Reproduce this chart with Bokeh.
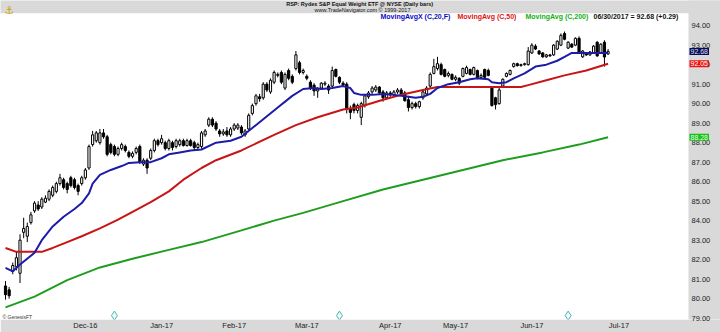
from bokeh.plotting import figure
from bokeh.models import (Range1d, LinearAxis, FixedTicker, Label, ColumnDataSource,
                          NumeralTickFormatter)
from bokeh.embed import file_html
from bokeh.resources import INLINE

FONT = "Liberation Sans"

# ---------------- data ----------------
opens = [80.65, 80.45, 81.4, 81.65, 81.3, 83.4, 83.2, 83.9, 84.5, 84.8,
         84.7, 84.95, 85.1, 85.3, 85.5, 85.9, 86.1, 85.9, 86.2, 86.1,
         85.8, 85.9, 86.2, 86.7, 87.9, 88.1, 88.0, 88.5, 88.3, 87.9,
         87.8, 87.4, 87.7, 87.8, 87.5, 87.3, 87.5, 87.8, 86.9, 87.1,
         87.2, 87.6, 88.1, 88.0, 88.0, 87.7, 88.0, 87.8, 87.9, 88.1,
         87.85, 88.1, 88.0, 87.75, 87.8, 88.4, 88.9, 89.2, 89.0, 88.6,
         88.45, 88.6, 88.4, 88.7, 88.75, 88.8, 88.4, 88.7, 89.5, 90.0,
         90.35, 90.3, 91.0, 90.6, 91.1, 91.45, 91.6, 90.8, 91.7, 91.4,
         91.8, 92.1, 91.6, 91.4, 91.1, 90.95, 90.65, 90.8, 91.0, 90.9,
         90.9, 91.75, 91.35, 91.05, 91.0, 89.75, 89.95, 89.65, 89.3, 89.9,
         90.35, 90.6, 90.7, 90.85, 90.6, 90.3, 90.55, 90.45, 90.6, 90.7,
         90.55, 90.2, 89.8, 90.0, 89.85, 90.3, 90.5, 90.9, 91.55, 91.8,
         92.0, 91.75, 91.45, 91.5, 91.25, 91.3, 91.4, 91.55, 91.75, 91.5,
         91.7, 91.35, 91.75, 91.7, 90.8, 90.3, 90.0, 90.9, 91.4, 91.5,
         91.9, 92.05, 91.95, 92.0, 92.0, 92.6, 92.95, 92.7, 92.6, 92.4,
         92.5, 92.5, 92.8, 93.0, 93.6, 92.85, 93.05, 93.0, 93.35, 92.4,
         92.6, 92.5, 92.6, 93.15, 92.6, 93.15, 92.55]
highs = [80.9, 80.6, 81.85, 82.4, 83.3, 84.15, 83.9, 84.45, 85.0, 85.0,
         85.2, 85.3, 85.6, 85.8, 86.0, 86.4, 86.2, 86.0, 86.3, 86.2,
         85.9, 86.3, 86.7, 87.9, 88.6, 88.6, 88.7, 88.7, 88.4, 88.0,
         87.9, 87.8, 88.0, 87.9, 87.6, 87.55, 87.8, 87.9, 87.2, 87.2,
         87.7, 88.2, 88.2, 88.4, 88.1, 88.2, 88.1, 88.2, 88.2, 88.2,
         88.2, 88.2, 88.1, 88.0, 88.6, 88.7, 89.3, 89.3, 89.1, 88.7,
         88.7, 88.8, 88.8, 89.0, 89.0, 88.9, 88.7, 89.5, 90.0, 90.5,
         90.5, 91.1, 91.1, 91.3, 91.7, 91.6, 91.7, 91.6, 91.8, 91.5,
         92.7, 92.2, 91.8, 91.5, 91.2, 91.05, 90.85, 91.1, 91.15, 91.0,
         91.9, 91.8, 91.4, 91.15, 91.1, 89.9, 90.05, 90.0, 90.1, 90.45,
         90.65, 90.9, 90.95, 90.9, 90.7, 90.65, 90.65, 90.7, 90.8, 90.8,
         90.65, 90.4, 90.1, 90.1, 90.15, 90.7, 90.9, 91.6, 92.3, 92.4,
         92.1, 91.8, 91.65, 91.55, 91.45, 91.35, 91.85, 91.95, 91.8, 91.9,
         91.75, 91.55, 91.8, 91.8, 90.85, 90.35, 90.85, 91.3, 91.6, 91.75,
         92.1, 92.1, 92.05, 92.1, 92.9, 93.1, 93.05, 92.75, 92.65, 92.55,
         92.55, 93.05, 93.25, 93.6, 93.7, 93.2, 93.1, 93.4, 93.45, 92.75,
         92.65, 92.7, 93.0, 93.2, 93.1, 93.25, 92.8]
lows = [79.95, 80.0, 81.25, 81.45, 80.8, 83.1, 82.9, 83.8, 84.4, 84.5,
        84.6, 84.9, 85.0, 85.2, 85.4, 85.8, 85.6, 85.4, 85.7, 85.6,
        85.3, 85.8, 86.1, 86.6, 87.8, 88.0, 87.9, 88.2, 87.3, 87.4,
        87.3, 87.3, 87.6, 87.5, 87.2, 87.2, 87.4, 86.9, 86.8, 86.4,
        87.1, 87.5, 87.8, 87.9, 87.6, 87.6, 87.6, 87.7, 87.8, 87.8,
        87.8, 87.8, 87.6, 87.6, 87.7, 88.3, 88.8, 88.8, 88.6, 88.3,
        88.35, 88.3, 88.3, 88.6, 88.65, 88.4, 88.3, 88.6, 89.4, 89.9,
        90.1, 90.2, 90.6, 90.5, 91.0, 91.35, 91.0, 90.7, 91.2, 91.0,
        91.7, 91.5, 91.5, 91.2, 90.7, 90.4, 90.3, 90.7, 90.9, 90.5,
        90.85, 91.35, 91.0, 90.85, 89.5, 89.2, 89.5, 89.5, 88.9, 89.8,
        90.25, 90.5, 90.6, 90.45, 90.1, 90.2, 90.35, 90.35, 90.5, 90.4,
        90.1, 89.6, 89.7, 89.75, 89.75, 90.2, 90.4, 90.8, 91.5, 91.7,
        91.45, 91.35, 91.35, 91.2, 91.15, 90.95, 91.35, 91.5, 91.45, 91.45,
        91.25, 91.25, 91.3, 91.4, 89.85, 89.7, 89.95, 90.85, 91.35, 91.45,
        91.85, 91.9, 91.9, 91.95, 91.95, 92.55, 92.75, 92.5, 92.35, 92.35,
        92.4, 92.45, 92.75, 92.95, 93.25, 92.8, 92.85, 92.95, 92.55, 92.35,
        92.45, 92.45, 92.55, 92.4, 92.55, 91.9, 92.5]
closes = [80.2, 80.15, 81.7, 82.1, 83.0, 83.6, 83.7, 84.3, 84.9, 84.6,
          85.1, 85.15, 85.5, 85.7, 85.9, 86.2, 85.7, 85.6, 85.8, 85.7,
          85.5, 86.2, 86.6, 87.8, 88.4, 88.5, 88.5, 88.3, 87.4, 87.5,
          87.4, 87.7, 87.9, 87.6, 87.3, 87.45, 87.7, 87.0, 87.1, 86.7,
          87.6, 88.1, 87.9, 88.2, 87.7, 88.1, 87.75, 88.1, 88.1, 87.85,
          88.1, 87.85, 87.75, 87.9, 88.5, 88.6, 89.2, 88.9, 88.7, 88.45,
          88.55, 88.4, 88.7, 88.9, 88.9, 88.5, 88.6, 89.4, 89.9, 90.4,
          90.25, 91.0, 90.7, 91.2, 91.6, 91.5, 91.1, 91.5, 91.3, 91.1,
          92.5, 91.6, 91.7, 91.3, 90.8, 90.65, 90.75, 91.05, 91.05, 90.7,
          91.7, 91.4, 91.1, 90.95, 89.7, 89.55, 89.65, 89.9, 90.0, 90.4,
          90.55, 90.8, 90.85, 90.55, 90.3, 90.55, 90.45, 90.6, 90.7, 90.5,
          90.15, 89.8, 90.0, 89.85, 90.1, 90.6, 90.8, 91.5, 91.9, 92.05,
          91.5, 91.4, 91.55, 91.25, 91.35, 91.05, 91.8, 91.85, 91.5, 91.85,
          91.3, 91.45, 91.35, 91.45, 89.9, 89.95, 90.7, 91.25, 91.55, 91.7,
          92.05, 91.95, 92.0, 92.05, 92.7, 93.0, 92.8, 92.55, 92.4, 92.5,
          92.45, 93.0, 93.2, 93.5, 93.3, 93.15, 92.9, 93.35, 92.6, 92.7,
          92.5, 92.65, 92.95, 92.45, 93.05, 92.39, 92.68]

# moving averages at these bar numbers
ma20_days = [0, 2, 4, 8, 10, 13, 16, 19, 21, 23, 24, 26, 29, 32, 34, 37, 40, 43, 45, 48,
             51, 54, 58, 62, 65, 71, 75, 79, 82, 85, 87, 90, 93, 95, 96, 98, 101, 104,
             107, 111, 113, 115, 117, 119, 122, 125, 128, 130, 133, 134, 136, 138, 140,
             143, 146, 149, 152, 154, 156, 158, 161, 163, 166]
ma20_vals = [81.58, 81.4, 81.75, 82.35, 83.0, 83.7, 84.2, 84.6, 84.9, 85.4, 85.9, 86.35,
             86.6, 86.8, 86.96, 87.0, 87.0, 87.2, 87.4, 87.5, 87.6, 87.65, 88.0, 88.1,
             88.3, 89.2, 89.8, 90.4, 90.75, 90.8, 90.75, 90.8, 90.9, 90.8, 90.55, 90.45,
             90.45, 90.5, 90.45, 90.35, 90.3, 90.35, 90.5, 90.8, 91.0, 91.1, 91.25, 91.3,
             91.25, 91.1, 91.05, 91.1, 91.3, 91.55, 91.9, 92.0, 92.2, 92.4, 92.6, 92.6,
             92.6, 92.6, 92.6]
ma50_days = [0, 3, 8, 10, 13, 17, 21, 26, 31, 35, 40, 45, 49, 54, 58, 65, 74, 80, 86, 93,
             97, 104, 110, 115, 119, 124, 129, 133, 138, 142, 144, 149, 154, 160, 166]
ma50_vals = [82.6, 82.4, 82.4, 82.4, 82.6, 82.9, 83.2, 83.6, 84.05, 84.45, 84.95, 85.5,
             86.1, 86.7, 87.1, 87.6, 88.4, 88.9, 89.3, 89.7, 89.8, 90.2, 90.5, 90.7,
             90.85, 90.85, 90.85, 90.85, 90.85, 90.85, 90.95, 91.2, 91.45, 91.7, 92.05]
ma200_days = [0, 8, 17, 26, 35, 45, 54, 65, 74, 82, 93, 104, 115, 126, 137, 148, 158, 166]
ma200_vals = [79.55, 80.1, 80.95, 81.6, 82.05, 82.5, 82.9, 83.5, 84.0, 84.4, 85.0, 85.6,
              86.1, 86.6, 87.1, 87.5, 87.9, 88.28]

price_ticks = [79, 80, 81, 82, 83, 84, 85, 86, 87, 88, 89, 90, 91, 92, 93, 94]
month_ticks = [22, 43, 63, 83, 106, 124, 145, 169]
month_labels = ["Dec-16", "Jan-17", "Feb-17", "Mar-17", "Apr-17", "May-17", "Jun-17", "Jul-17"]
event_days = [30, 92, 155]

last_close = 92.68
last_change = 0.29
ma50_last = 92.05
ma200_last = 88.28

# ---------------- figure ----------------
GREY = "#d9d9d9"
X_LO, X_HI = -1.38, 196.97          # frame spans the full 720 px width
Y_LO, Y_HI = 78.93, 95.29           # frame spans y = 0 .. 320 px
X_AXIS_EDGE = 188.15                # where the grey price-scale strip begins
Y_HEAD_EDGE = 94.63                 # where the grey header strip ends

p = figure(width=720, height=332, output_backend="svg", toolbar_location=None,
           x_range=Range1d(X_LO, X_HI), y_range=Range1d(Y_LO, Y_HI),
           x_axis_location=None, y_axis_location=None,
           min_border_left=0, min_border_right=0, min_border_top=0, min_border_bottom=12)
p.border_fill_color = GREY
p.background_fill_color = "white"
p.outline_line_color = None
p.grid.grid_line_color = None

# grey strips (header and price scale)
p.quad(left=[X_LO - 5, X_AXIS_EDGE], right=[X_HI + 5, X_HI + 5],
       bottom=[Y_HEAD_EDGE, Y_LO - 5], top=[Y_HI + 5, Y_HI + 5],
       fill_color=GREY, line_color=None)

idx = list(range(len(closes)))
up = [c >= o for o, c in zip(opens, closes)]
src = ColumnDataSource(dict(
    x=idx, o=opens, h=highs, l=lows, c=closes,
    top=[max(o, c) for o, c in zip(opens, closes)],
    bot=[min(o, c) for o, c in zip(opens, closes)],
    fill=["white" if u else "black" for u in up]))

p.segment(x0="x", y0="l", x1="x", y1="h", source=src, line_color="black", line_width=1)
p.vbar(x="x", top="top", bottom="bot", width=0.6, source=src,
       fill_color="fill", line_color="black", line_width=1)

p.line(ma200_days, ma200_vals, line_color="#1e9e1e", line_width=2)
p.line(ma50_days, ma50_vals, line_color="#c81414", line_width=2)
p.line(ma20_days, ma20_vals, line_color="#1c1ca8", line_width=2)

p.scatter(event_days, [79.13] * len(event_days), marker="diamond", size=9,
          fill_color="#eefafa", line_color="#4ab3b3", line_width=1)

# axes
ax_b = LinearAxis(ticker=FixedTicker(ticks=month_ticks),
                  major_label_overrides={t: l for t, l in zip(month_ticks, month_labels)})
ax_b.axis_line_color = None
ax_b.major_tick_line_color = None
ax_b.minor_tick_line_color = None
ax_b.major_tick_out = 0
ax_b.major_tick_in = 0
ax_b.minor_tick_out = 0
ax_b.minor_tick_in = 0
ax_b.major_label_standoff = 1
ax_b.major_label_text_font = FONT
ax_b.major_label_text_font_size = "7.5px"
ax_b.major_label_text_color = "#222222"
p.add_layout(ax_b, "below")

ax_r = LinearAxis(ticker=FixedTicker(ticks=price_ticks),
                  formatter=NumeralTickFormatter(format="0.00"))
ax_r.axis_line_color = None
ax_r.major_tick_line_color = None
ax_r.minor_tick_line_color = None
ax_r.major_tick_out = 0
ax_r.major_tick_in = 0
ax_r.minor_tick_out = 0
ax_r.minor_tick_in = 0
ax_r.major_label_standoff = -29     # labels sit on the grey strip inside the frame
ax_r.major_label_text_font = FONT
ax_r.major_label_text_font_size = "7.5px"
ax_r.major_label_text_color = "#222222"
p.add_layout(ax_r, "right")

# price boxes on the price scale
for val, bg, fg in [(last_close, "#0a0a50", "#d8e0ff"), (ma50_last, "#ee1111", "white"),
                    (ma200_last, "#16c016", "#e8ffe8")]:
    p.add_layout(Label(x=689, y=val, x_units="screen", y_units="data", text=f"{val:.2f}",
                       text_font=FONT, text_font_size="7px", text_color=fg,
                       text_baseline="middle", background_fill_color=bg, padding=1))

# header texts (screen y measured up from the frame bottom at 320 px)
p.add_layout(Label(x=4, y=309, x_units="screen", y_units="screen", text="\u2693",
                   text_font="DejaVu Sans", text_font_size="11px", text_color="#c9a400",
                   text_baseline="middle"))
p.add_layout(Label(x=360, y=316, x_units="screen", y_units="screen",
                   text="RSP: Rydex S&P Equal Weight ETF @ NYSE  (Daily bars)",
                   text_font=FONT, text_font_size="5.5px", text_font_style="bold",
                   text_align="center", text_baseline="middle", text_color="#111111"))
p.add_layout(Label(x=362, y=309.5, x_units="screen", y_units="screen",
                   text="www.TradeNavigator.com \u00a9 1999-2017",
                   text_font=FONT, text_font_size="5.5px",
                   text_align="center", text_baseline="middle", text_color="#111111"))

legend_items = [(380, "MovingAvgX (C,20,F)", "#0a0ac8"),
                (457, "MovingAvg (C,50)", "#e01010"),
                (525, "MovingAvg (C,200)", "#10b010"),
                (593, f"06/30/2017 = {last_close:.2f} (+{last_change:.2f})", "#111111")]
for x0, t, col in legend_items:
    p.add_layout(Label(x=x0, y=303, x_units="screen", y_units="screen", text=t,
                       text_font=FONT, text_font_size="7px", text_font_style="bold",
                       text_baseline="middle", text_color=col))

p.add_layout(Label(x=2, y=3, x_units="screen", y_units="screen", text="\u00a9 GenesisFT",
                   text_font=FONT, text_font_size="5px", text_baseline="middle",
                   text_color="#333333"))

open("out.html", "w").write(file_html(p, INLINE))
